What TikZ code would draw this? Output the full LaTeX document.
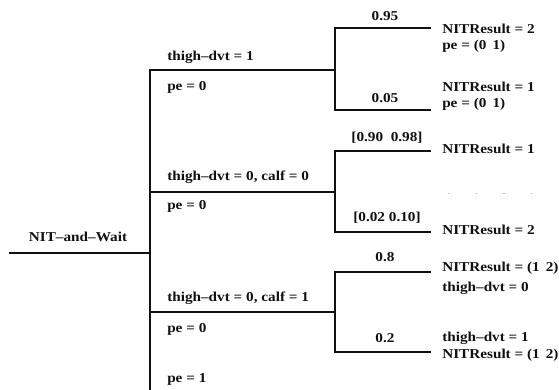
\documentclass[tikz,border=0pt]{standalone}
\usepackage{fontspec}
\setmainfont{Liberation Serif}[FakeStretch=1.12]
\usetikzlibrary{positioning}
\definecolor{ink}{HTML}{111111}
\tikzset{edge/.style={ink,line width=1.5pt,line cap=rect},
lbl/.style={anchor=west,inner sep=0pt,text=ink,font=\bfseries\fontsize{10.2}{12}\selectfont},
prob/.style={inner sep=0pt,text=ink,font=\bfseries\fontsize{10.2}{12}\selectfont}}

\begin{document}
\begin{tikzpicture}[x=0.75pt,y=-0.75pt]
\useasboundingbox (0,0) rectangle (559,389);
\coordinate (root) at (10,253);\coordinate (split) at (150,253);\coordinate (trunktop) at (150,70);\coordinate (trunkbot) at (150,389);
\coordinate (b1) at (335,70);\coordinate (b1top) at (335,28);\coordinate (b1bot) at (335,110);\coordinate (b1topend) at (430,28);\coordinate (b1botend) at (430,110);
\coordinate (b2s) at (150,192);\coordinate (b2) at (335,192);\coordinate (b2top) at (335,151);\coordinate (b2bot) at (335,232);\coordinate (b2topend) at (430,151);\coordinate (b2botend) at (430,232);
\coordinate (b3s) at (150,312);\coordinate (b3) at (335,312);\coordinate (b3top) at (335,272);\coordinate (b3bot) at (335,352);\coordinate (b3topend) at (430,272);\coordinate (b3botend) at (430,352);
\draw[edge] (root)--(split);\draw[edge] (trunktop)--(trunkbot);
\draw[edge] (trunktop)--(b1);\draw[edge] (b1top)--(b1bot);\draw[edge] (b1top)--(b1topend);\draw[edge] (b1bot)--(b1botend);
\draw[edge] (b2s)--(b2);\draw[edge] (b2top)--(b2bot);\draw[edge] (b2top)--(b2topend);\draw[edge] (b2bot)--(b2botend);
\draw[edge] (b3s)--(b3);\draw[edge] (b3top)--(b3bot);\draw[edge] (b3top)--(b3topend);\draw[edge] (b3bot)--(b3botend);
\node[prob] (start) at (78,237) {NIT--and--Wait};
\node[lbl] (c1) at (167,57) {thigh--dvt = 1};\node[lbl] (pe1) at (167,87) {pe = 0};
\node[lbl] (c2) at (167,177) {thigh--dvt = 0, calf = 0};\node[lbl] (pe2) at (167,206) {pe = 0};
\node[lbl] (c3) at (167,298) {thigh--dvt = 0, calf = 1};\node[lbl] (pe3) at (167,329) {pe = 0};\node[lbl] (pe4) at (167,379) {pe = 1};
\node[prob] (p1) at (385,16) {0.95};\node[prob] (p2) at (385,98) {0.05};
\node[prob] (p3) at (387,138) {[0.90\ \ 0.98]};\node[prob] (p4) at (387,218) {[0.02 0.10]};
\node[prob] (p5) at (385,257) {0.8};\node[prob] (p6) at (385,338) {0.2};
\node[lbl] (r1) at (442,29) {NITResult = 2};\node[lbl] (r1b) at (442,46) {pe = (0\ \,1)};
\node[lbl] (r2) at (442,87) {NITResult = 1};\node[lbl] (r2b) at (442,104) {pe = (0\ \,1)};
\node[lbl] (r3) at (442,149) {NITResult = 1};\node[lbl] (r4) at (442,230) {NITResult = 2};
\node[lbl] (r5) at (442,268) {NITResult = (1\ \,2)};\node[lbl] (r5b) at (442,288) {thigh--dvt = 0};
\node[lbl] (r6) at (442,338) {thigh--dvt = 1};\node[lbl] (r6b) at (442,355) {NITResult = (1\ \,2)};
\coordinate (noisel) at (448,193);\coordinate (noiser) at (556,193);
\draw[gray!60,line width=0.6pt,dash pattern=on 0.8pt off 20pt] (noisel)--(noiser);
\end{tikzpicture}
\end{document}
